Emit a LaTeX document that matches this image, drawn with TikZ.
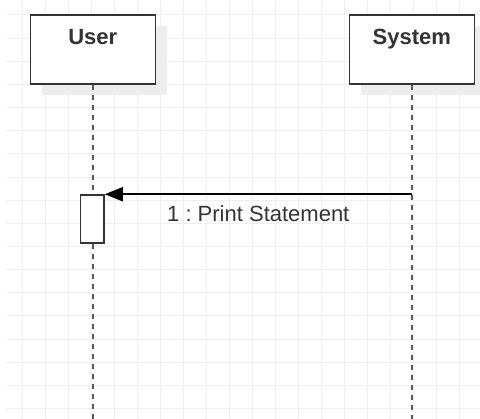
\documentclass[tikz,border=0pt]{standalone}
\usepackage{fontspec}
\setmainfont{Liberation Sans}
\usetikzlibrary{arrows.meta,shadows}
\usetikzlibrary{calc}
\definecolor{gridgray}{HTML}{EFEFEF}
\definecolor{ink}{HTML}{333333}
\frenchspacing

\begin{document}
\begin{tikzpicture}[x=1pt, y=-1pt, line join=miter,
    actor/.style={draw=ink, line width=1.6pt, fill=white, anchor=north,
      minimum width=125pt, inner ysep=13.3pt, text height=16pt, text depth=26.4pt,
      font=\fontsize{22}{26}\selectfont\bfseries, text=ink,
      drop shadow={shadow xshift=12pt, shadow yshift=-11pt, fill=black!7, opacity=1}},
    lifeline/.style={draw=black!65, line width=2.4pt, dash pattern=on 5.5pt off 4.5pt},
    activation/.style={draw=ink, line width=1.6pt, fill=white, minimum width=23.3pt,
      minimum height=47.7pt, inner sep=0pt},
    msg/.style={draw=black, line width=1.6pt, -{Triangle[length=18pt, width=14pt]}},
    msglabel/.style={font=\fontsize{22}{26}\selectfont, text=ink, inner sep=2pt}]
    \useasboundingbox (0,0) rectangle (480,419);
    % grid
    \foreach \i in {0,...,19}
      \draw[gridgray, line width=1pt] (22.7+23*\i,0) -- (22.7+23*\i,419);
    \foreach \j in {0,...,17}
      \draw[gridgray, line width=1pt] (7,15+23.15*\j) -- (480,15+23.15*\j);
    % actors
    \node[actor] (user) at (92.8,14) {User};
    \node[actor] (system) at (411.8,14) {System};
    \coordinate (userend) at (92.8,419);
    \coordinate (systemend) at (411.8,419);
    \node[activation] (act) at (92.3,218.9) {};
    \draw[lifeline] (user.south) -- (user.south |- act.north);
    \draw[lifeline] (user.south |- act.south) -- (userend);
    \draw[lifeline] (system.south) -- (systemend);
    % message
    \draw[msg] (act.north east -| system.south) -- (act.north east)
      node[msglabel, midway, below=9pt] {1 : Print Statement};
  \end{tikzpicture}
\end{document}
